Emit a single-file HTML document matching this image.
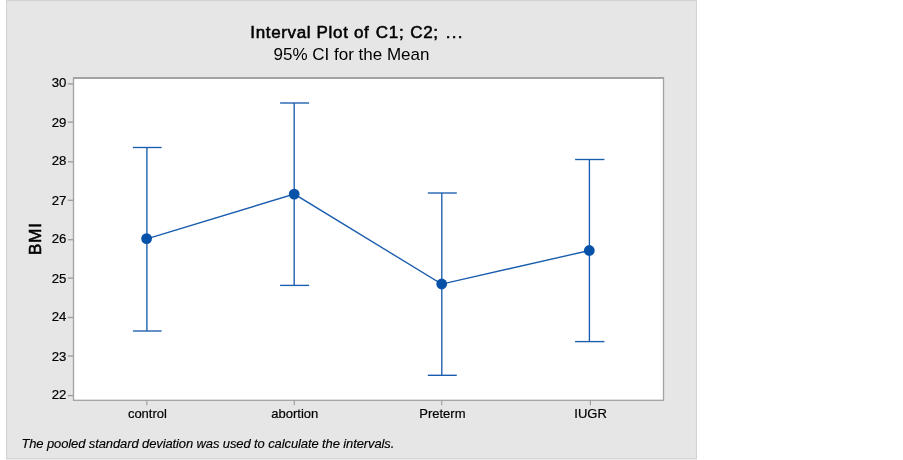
<!DOCTYPE html>
<html>
<head>
<meta charset="utf-8">
<title>Interval Plot of C1; C2; ...</title>
<style>
html,body{margin:0;padding:0;background:#ffffff;}
body{width:903px;height:460px;overflow:hidden;position:relative;font-family:"Liberation Sans",sans-serif;}
svg{position:absolute;left:0;top:0;display:block;}
text{font-family:"Liberation Sans",sans-serif;fill:#000000;}
</style>
</head>
<body>
<svg width="903" height="460" viewBox="0 0 903 460">
  <!-- outer panel -->
  <rect x="6" y="0" width="691" height="459.5" fill="#d3d3d3"/>
  <rect x="7.1" y="1.1" width="688.8" height="457.1" fill="#e6e6e6"/>
  <!-- plot area -->
  <rect x="73.5" y="78" width="590" height="322.3" fill="#ffffff" stroke="#a3a3a3" stroke-width="1.3"/>
  <line x1="73" y1="78" x2="664" y2="78" stroke="#a3a3a3" stroke-width="1.8"/>
  <!-- y ticks -->
  <g stroke="#a0a0a0" stroke-width="1.4">
    <line x1="67.8" x2="73" y1="83.9" y2="83.9"/>
    <line x1="67.8" x2="73" y1="122.1" y2="122.1"/>
    <line x1="67.8" x2="73" y1="161.8" y2="161.8"/>
    <line x1="67.8" x2="73" y1="200.3" y2="200.3"/>
    <line x1="67.8" x2="73" y1="239.7" y2="239.7"/>
    <line x1="67.8" x2="73" y1="278.1" y2="278.1"/>
    <line x1="67.8" x2="73" y1="317.5" y2="317.5"/>
    <line x1="67.8" x2="73" y1="356.0" y2="356.0"/>
    <line x1="67.8" x2="73" y1="395.6" y2="395.6"/>
  </g>
  <!-- x ticks -->
  <g stroke="#a0a0a0" stroke-width="1.2">
    <line x1="146.8" x2="146.8" y1="400.5" y2="405.2"/>
    <line x1="294.3" x2="294.3" y1="400.5" y2="405.2"/>
    <line x1="441.7" x2="441.7" y1="400.5" y2="405.2"/>
    <line x1="590.4" x2="590.4" y1="400.5" y2="405.2"/>
  </g>
  <!-- y labels -->
  <g font-size="13.2" text-anchor="end" stroke="#000" stroke-width="0.2">
    <text x="66.3" y="87.45">30</text>
    <text x="66.3" y="126.80">29</text>
    <text x="66.3" y="165.30">28</text>
    <text x="66.3" y="204.60">27</text>
    <text x="66.3" y="243.20">26</text>
    <text x="66.3" y="282.65">25</text>
    <text x="66.3" y="321.05">24</text>
    <text x="66.3" y="360.55">23</text>
    <text x="66.3" y="398.80">22</text>
  </g>
  <!-- x labels -->
  <g font-size="13" text-anchor="middle" stroke="#000" stroke-width="0.2">
    <text x="147.4" y="417.9">control</text>
    <text x="294.8" y="417.9">abortion</text>
    <text x="442.4" y="417.9">Preterm</text>
    <text x="590.6" y="417.9">IUGR</text>
  </g>
  <!-- axis title -->
  <text transform="translate(41.1,255.0) rotate(-90)" font-size="17" letter-spacing="0.9" stroke="#000000" stroke-width="0.55">BMI</text>
  <!-- titles -->
  <text id="ttl" x="250.3" y="37.7" font-size="17" letter-spacing="0.65" stroke="#000000" stroke-width="0.55">Interval Plot <tspan dx="0.1">of </tspan><tspan dx="1.0">C1; </tspan><tspan dx="0.6">C2; </tspan><tspan dx="1.7" letter-spacing="1.25">...</tspan></text>
  <text id="sub" x="351.5" y="60.2" font-size="17" text-anchor="middle">95% CI for the Mean</text>
  <!-- footnote -->
  <text id="foot" x="21.4" y="448.2" font-size="13" font-style="italic" letter-spacing="-0.111" stroke="#000" stroke-width="0.15">The pooled standard deviation was used to calculate the intervals.</text>
  <!-- data -->
  <g stroke="#185cae" stroke-width="1.35" fill="none">
    <polyline points="146.8,238.8 294.3,194.1 441.7,284.1 589.4,250.5"/>
    <line x1="146.9" x2="146.9" y1="147.5" y2="331"/>
    <line x1="132.9" x2="161.6" y1="147.5" y2="147.5"/>
    <line x1="132.9" x2="161.6" y1="331" y2="331"/>
    <line x1="294.2" x2="294.2" y1="103" y2="285.4"/>
    <line x1="280.1" x2="309.1" y1="103" y2="103"/>
    <line x1="280.1" x2="309.1" y1="285.4" y2="285.4"/>
    <line x1="441.8" x2="441.8" y1="193" y2="375.3"/>
    <line x1="427.8" x2="456.8" y1="193" y2="193"/>
    <line x1="427.8" x2="456.8" y1="375.3" y2="375.3"/>
    <line x1="589.4" x2="589.4" y1="159.5" y2="341.6"/>
    <line x1="575.1" x2="604.4" y1="159.5" y2="159.5"/>
    <line x1="575.1" x2="604.4" y1="341.6" y2="341.6"/>
  </g>
  <g fill="#0552a8">
    <circle cx="146.6" cy="238.6" r="5.4"/>
    <circle cx="294.2" cy="194.1" r="5.4"/>
    <circle cx="441.7" cy="284.0" r="5.4"/>
    <circle cx="589.3" cy="250.5" r="5.4"/>
  </g>
</svg>
</body>
</html>
